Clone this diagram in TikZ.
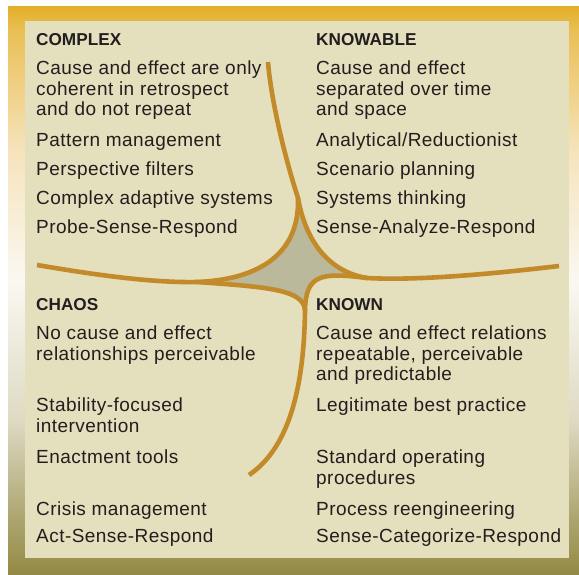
\documentclass[tikz,border=0pt]{standalone}
\usepackage{fontspec}
\setmainfont{Liberation Sans}
\newfontfamily\bodyf{Liberation Sans}[LetterSpace=2.4]
\newfontfamily\headf{Liberation Sans}
\definecolor{ink}{HTML}{221E1F}
\definecolor{panel}{HTML}{E4DFBC}
\definecolor{curve}{HTML}{C28A28}
\definecolor{stargrey}{HTML}{BAB99B}
\definecolor{g1}{HTML}{E3AF27}
\definecolor{g2}{HTML}{E9BF55}
\definecolor{g3}{HTML}{F6E3BB}
\definecolor{g4}{HTML}{FAF8F1}
\definecolor{g5}{HTML}{DEDAC4}
\definecolor{g6}{HTML}{ACA46E}
\definecolor{g7}{HTML}{948A45}
\newcommand\mlines[1]{\begin{tabular}[t]{@{}l@{}}#1\end{tabular}}
\begin{document}
\begin{tikzpicture}[x=1pt,y=-1pt,
  txt/.style={anchor=base west, inner sep=0pt, text=ink, font=\bodyf\fontsize{19}{20.7}\selectfont},
  head/.style={anchor=base west, inner sep=0pt, text=ink, font=\headf\bfseries\fontsize{17.2}{20}\selectfont},
  arm/.style={draw=curve, line width=4.6pt, line cap=butt, line join=round},
  star/.style={fill=stargrey},
  strip/.style={draw=none}]
\useasboundingbox (0,0) rectangle (579,574);
% outer gradient frame
\shade[strip, top color=g1, bottom color=g2] (8,6) rectangle (579,30.5);
\shade[strip, top color=g2, bottom color=g3] (8,30) rectangle (579,150.5);
\shade[strip, top color=g3, bottom color=g4] (8,150) rectangle (579,280.5);
\shade[strip, top color=g4, bottom color=g5] (8,280) rectangle (579,420.5);
\shade[strip, top color=g5, bottom color=g6] (8,420) rectangle (579,520.5);
\shade[strip, top color=g6, bottom color=g7] (8,520) rectangle (579,574);
% inner panel
\fill[panel] (25,21) rectangle (569,558);

% key points
\coordinate (T) at (268,62);
\coordinate (L) at (37,265);
\coordinate (R) at (559,266);
\coordinate (B) at (249,475);
\coordinate (Tt) at (298,198);
\coordinate (Lt) at (197,282);
\coordinate (Rt) at (367,278);
\coordinate (Bt) at (305,310);

% centre star
\fill[star] (Tt) .. controls (300,260) and (250,280) .. (Lt)
  .. controls (270,287) and (303,290) .. (Bt)
  .. controls (306,275) and (320,272) .. (Rt)
  .. controls (330,272) and (306,243) .. (Tt) -- cycle;

% curves
\draw[arm] (T) .. controls (271,100) and (285,158) .. (Tt)
  .. controls (300,260) and (250,280) .. (Lt);
\draw[arm] (Tt) .. controls (306,243) and (330,272) .. (Rt);
\draw[arm] (L) .. controls (90,274) and (150,283) .. (Lt)
  .. controls (270,287) and (303,290) .. (Bt)
  .. controls (304,395) and (286,450) .. (B);
\draw[arm] (R) .. controls (500,273) and (420,281) .. (Rt)
  .. controls (320,272) and (306,275) .. (Bt);

% COMPLEX
\node[head] (hcomplex) at (36,45.7) {COMPLEX};
\node[txt] (cx1) at (36,74.3) {\mlines{Cause and effect are only\\coherent in retrospect\\and do not repeat}};
\node[txt] (cx2) at (36,146.5) {Pattern management};
\node[txt] (cx3) at (36,175.5) {Perspective filters};
\node[txt] (cx4) at (36,204.5) {Complex adaptive systems};
\node[txt] (cx5) at (36,233.5) {Probe-Sense-Respond};

% KNOWABLE
\node[head] (hknowable) at (316,45.7) {KNOWABLE};
\node[txt] (kb1) at (316,74.3) {\mlines{Cause and effect\\separated over time\\and space}};
\node[txt] (kb2) at (316,146.5) {Analytical/Reductionist};
\node[txt] (kb3) at (316,175.5) {Scenario planning};
\node[txt] (kb4) at (316,204.5) {Systems thinking};
\node[txt] (kb5) at (316,233.5) {Sense-Analyze-Respond};

% CHAOS
\node[head] (hchaos) at (36,310.7) {CHAOS};
\node[txt] (ch1) at (36,339.3) {\mlines{No cause and effect\\relationships perceivable}};
\node[txt] (ch2) at (36,411.7) {\mlines{Stability-focused\\intervention}};
\node[txt] (ch3) at (36,463.3) {Enactment tools};
\node[txt] (ch4) at (36,515) {Crisis management};
\node[txt] (ch5) at (36,542.3) {Act-Sense-Respond};

% KNOWN
\node[head] (hknown) at (316,310.7) {KNOWN};
\node[txt] (kn1) at (316,339.3) {\mlines{Cause and effect relations\\repeatable, perceivable\\and predictable}};
\node[txt] (kn2) at (316,411.5) {Legitimate best practice};
\node[txt] (kn3) at (316,463.3) {\mlines{Standard operating\\procedures}};
\node[txt] (kn4) at (316,515) {Process reengineering};
\node[txt] (kn5) at (316,542.3) {Sense-Categorize-Respond};
\end{tikzpicture}
\end{document}
